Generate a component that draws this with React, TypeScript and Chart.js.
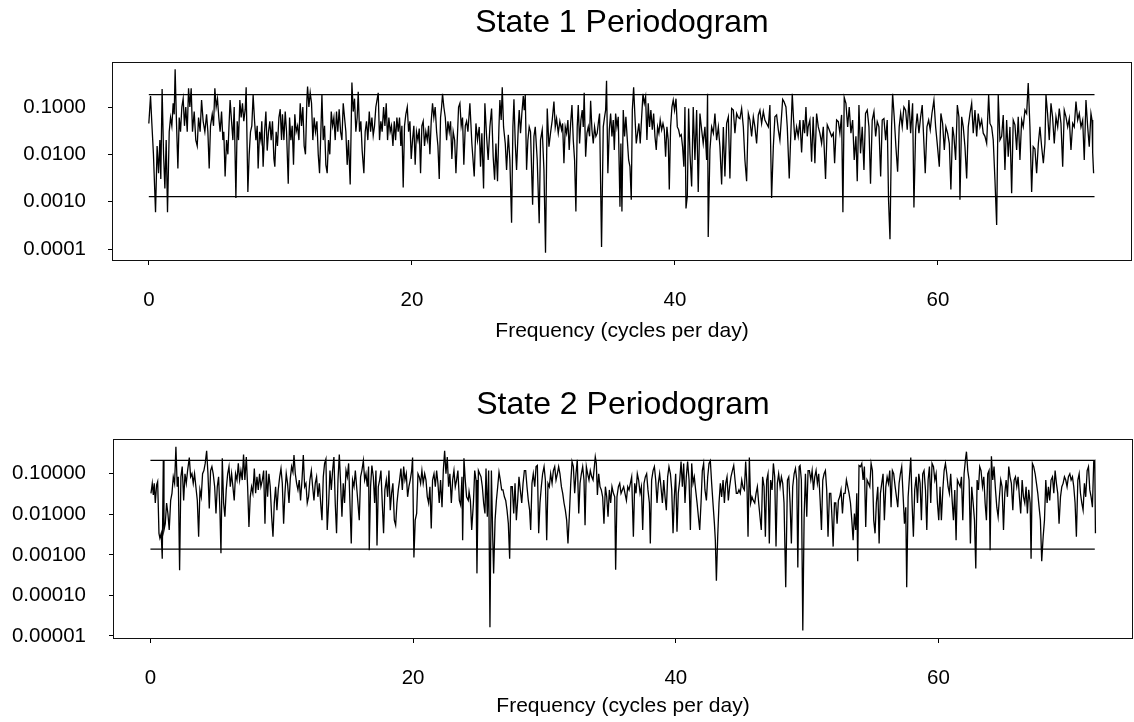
import React, { useEffect, useRef } from "react";
import { Chart, registerables } from "chart.js";

Chart.register(...registerables);

// ---------- DATA ----------
// [frequency (cycles per day), power]
const state1Periodogram: [number, number][] = [
  [0,0.045],[0.13,0.17],[0.23,0.045],[0.35,0.01],[0.51,0.0006],[0.63,0.015],[0.74,0.004],[0.84,0.02],[0.91,0.003],[1.01,0.24],[1.12,0.01],[1.22,0.0019],[1.32,0.02],[1.42,0.0006],[1.55,0.03],[1.65,0.06],[1.75,0.04],[1.85,0.12],[1.93,0.07],[2.0,0.63],[2.1,0.05],[2.21,0.005],[2.31,0.06],[2.41,0.03],[2.51,0.1],[2.61,0.15],[2.71,0.04],[2.81,0.1],[2.92,0.03],[3.02,0.25],[3.12,0.1],[3.22,0.25],[3.32,0.03],[3.45,0.08],[3.57,0.02],[3.68,0.015],[3.78,0.06],[3.9,0.03],[4.01,0.14],[4.13,0.05],[4.26,0.03],[4.39,0.07],[4.49,0.03],[4.59,0.005],[4.69,0.04],[4.82,0.07],[4.92,0.04],[5.02,0.25],[5.12,0.1],[5.22,0.15],[5.32,0.06],[5.42,0.03],[5.53,0.08],[5.63,0.02],[5.7,0.03],[5.8,0.0034],[5.91,0.02],[6.01,0.01],[6.11,0.05],[6.18,0.14],[6.29,0.05],[6.39,0.02],[6.49,0.1],[6.62,0.0012],[6.72,0.05],[6.82,0.02],[6.92,0.14],[7.02,0.06],[7.12,0.12],[7.22,0.05],[7.33,0.09],[7.4,0.26],[7.53,0.0016],[7.63,0.01],[7.73,0.03],[7.83,0.04],[7.93,0.18],[8.04,0.05],[8.14,0.02],[8.24,0.04],[8.31,0.005],[8.42,0.03],[8.52,0.02],[8.59,0.05],[8.69,0.0055],[8.8,0.03],[8.9,0.08],[9.0,0.012],[9.1,0.03],[9.2,0.05],[9.3,0.02],[9.4,0.05],[9.51,0.008],[9.58,0.0055],[9.68,0.03],[9.78,0.015],[9.89,0.06],[9.99,0.09],
  [10.09,0.02],[10.16,0.07],[10.27,0.02],[10.37,0.08],[10.47,0.03],[10.6,0.0024],[10.7,0.06],[10.8,0.02],[10.9,0.04],[11.0,0.006],[11.1,0.07],[11.2,0.03],[11.31,0.04],[11.41,0.02],[11.51,0.12],[11.61,0.04],[11.71,0.1],[11.81,0.015],[11.91,0.01],[12.02,0.15],[12.07,0.27],[12.17,0.1],[12.27,0.2],[12.37,0.12],[12.47,0.02],[12.57,0.06],[12.67,0.03],[12.78,0.05],[12.88,0.01],[12.98,0.004],[13.08,0.03],[13.16,0.18],[13.26,0.02],[13.36,0.04],[13.46,0.006],[13.56,0.004],[13.66,0.02],[13.76,0.01],[13.87,0.08],[13.97,0.04],[14.07,0.06],[14.17,0.02],[14.27,0.08],[14.37,0.03],[14.47,0.09],[14.58,0.03],[14.68,0.02],[14.78,0.12],[14.88,0.06],[14.98,0.03],[15.08,0.006],[15.18,0.02],[15.31,0.0023],[15.44,0.33],[15.54,0.08],[15.64,0.15],[15.74,0.03],[15.84,0.06],[15.92,0.21],[16.02,0.03],[16.12,0.05],[16.22,0.012],[16.35,0.004],[16.45,0.03],[16.55,0.05],[16.65,0.02],[16.76,0.08],[16.86,0.03],[16.96,0.06],[17.06,0.025],[17.16,0.04],[17.26,0.1],[17.44,0.2],[17.54,0.02],[17.64,0.05],[17.74,0.03],[17.85,0.1],[17.95,0.04],[18.05,0.12],[18.15,0.02],[18.25,0.06],[18.35,0.03],[18.45,0.04],[18.56,0.015],[18.66,0.05],[18.76,0.02],[18.86,0.06],[18.96,0.03],[19.06,0.06],[19.16,0.015],[19.24,0.04],[19.34,0.002],[19.44,0.04],[19.54,0.07],[19.65,0.1],[19.75,0.03],[19.85,0.05],[19.95,0.008],
  [20.05,0.02],[20.15,0.04],[20.25,0.006],[20.35,0.03],[20.46,0.02],[20.56,0.035],[20.66,0.004],[20.76,0.04],[20.86,0.05],[20.96,0.015],[21.06,0.03],[21.17,0.02],[21.27,0.04],[21.37,0.01],[21.47,0.05],[21.57,0.12],[21.67,0.06],[21.77,0.1],[21.88,0.03],[21.98,0.015],[22.08,0.003],[22.18,0.06],[22.26,0.1],[22.33,0.19],[22.43,0.1],[22.54,0.06],[22.64,0.02],[22.74,0.05],[22.84,0.03],[22.94,0.05],[23.04,0.008],[23.14,0.03],[23.25,0.02],[23.35,0.004],[23.45,0.02],[23.55,0.1],[23.65,0.12],[23.75,0.04],[23.85,0.06],[23.95,0.006],[24.06,0.04],[24.16,0.05],[24.26,0.03],[24.41,0.12],[24.56,0.017],[24.74,0.0034],[24.87,0.045],[24.99,0.02],[25.12,0.038],[25.22,0.0055],[25.32,0.028],[25.45,0.0019],[25.55,0.12],[25.68,0.024],[25.8,0.0076],[25.93,0.038],[26.06,0.093],[26.18,0.009],[26.29,0.0029],[26.39,0.017],[26.51,0.0027],[26.62,0.038],[26.69,0.14],[26.79,0.053],[26.87,0.26],[26.97,0.038],[27.1,0.017],[27.2,0.0047],[27.33,0.026],[27.45,0.0076],[27.58,0.00036],[27.68,0.038],[27.76,0.145],[27.86,0.017],[27.96,0.0047],[28.09,0.038],[28.16,0.086],[28.26,0.028],[28.36,0.073],[28.47,0.17],[28.54,0.086],[28.62,0.18],[28.72,0.0047],[28.82,0.02],[28.92,0.038],[29.02,0.03],[29.18,0.00086],[29.28,0.024],[29.38,0.038],[29.53,0.0076],[29.68,0.00035],[29.78,0.02],[29.91,0.033],
  [30.04,0.0047],[30.16,0.000083],[30.29,0.093],[30.42,0.0145],[30.54,0.028],[30.67,0.053],[30.8,0.13],[30.9,0.038],[31.0,0.057],[31.13,0.028],[31.25,0.05],[31.38,0.033],[31.46,0.045],[31.56,0.0065],[31.66,0.038],[31.76,0.028],[31.86,0.053],[31.96,0.0124],[32.07,0.045],[32.17,0.11],[32.27,0.02],[32.37,0.0076],[32.47,0.00062],[32.57,0.038],[32.65,0.11],[32.75,0.017],[32.85,0.053],[32.95,0.086],[33.03,0.038],[33.1,0.2],[33.21,0.0089],[33.31,0.028],[33.41,0.038],[33.51,0.024],[33.59,0.135],[33.69,0.033],[33.79,0.017],[33.89,0.038],[33.99,0.024],[34.09,0.028],[34.2,0.053],[34.27,0.073],[34.42,0.00011],[34.55,0.038],[34.65,0.062],[34.73,0.086],[34.8,0.36],[34.9,0.004],[35.01,0.033],[35.11,0.073],[35.21,0.024],[35.31,0.053],[35.39,0.0124],[35.49,0.073],[35.59,0.038],[35.69,0.062],[35.82,0.00078],[35.89,0.017],[35.97,0.00062],[36.07,0.086],[36.17,0.024],[36.27,0.062],[36.38,0.02],[36.48,0.0076],[36.58,0.0055],[36.68,0.0011],[36.76,0.086],[36.86,0.26],[36.96,0.062],[37.06,0.017],[37.16,0.028],[37.26,0.045],[37.36,0.017],[37.47,0.062],[37.57,0.19],[37.67,0.12],[37.77,0.165],[37.87,0.02],[37.97,0.12],[38.07,0.038],[38.17,0.086],[38.28,0.033],[38.38,0.073],[38.48,0.024],[38.58,0.0124],[38.68,0.038],[38.78,0.028],[38.88,0.053],[38.99,0.033],[39.09,0.045],[39.19,0.033],[39.29,0.0089],[39.39,0.038],[39.49,0.02],[39.57,0.0018],[39.67,0.038],[39.77,0.1],[39.87,0.14],[39.97,0.086],
  [40.08,0.15],[40.18,0.038],[40.28,0.033],[40.38,0.024],[40.48,0.026],[40.58,0.0145],[40.68,0.0055],[40.76,0.1],[40.84,0.00072],[40.94,0.0013],[41.04,0.093],[41.14,0.0105],[41.27,0.0021],[41.39,0.1],[41.52,0.0076],[41.65,0.086],[41.77,0.0016],[41.9,0.073],[42.03,0.033],[42.15,0.017],[42.28,0.038],[42.41,0.0076],[42.48,0.19],[42.53,0.00018],[42.66,0.0124],[42.79,0.038],[42.92,0.028],[43.04,0.073],[43.17,0.02],[43.3,0.038],[43.42,0.0145],[43.55,0.0023],[43.68,0.038],[43.8,0.0034],[43.93,0.045],[44.06,0.062],[44.18,0.0031],[44.31,0.093],[44.44,0.086],[44.56,0.028],[44.69,0.073],[44.82,0.06],[44.94,0.057],[45.07,0.093],[45.2,0.038],[45.32,0.0076],[45.45,0.0027],[45.58,0.073],[45.7,0.053],[45.83,0.024],[45.96,0.062],[46.08,0.038],[46.21,0.017],[46.34,0.068],[46.46,0.086],[46.59,0.045],[46.72,0.08],[46.84,0.053],[46.97,0.045],[47.1,0.038],[47.22,0.11],[47.35,0.0012],[47.48,0.0145],[47.6,0.062],[47.73,0.068],[47.86,0.033],[47.98,0.02],[48.11,0.068],[48.19,0.145],[48.29,0.13],[48.44,0.1],[48.54,0.038],[48.69,0.0031],[48.92,0.19],[49.02,0.053],[49.12,0.02],[49.25,0.038],[49.37,0.024],[49.5,0.053],[49.63,0.011],[49.75,0.053],[49.86,0.028],[49.96,0.1],
  [50.06,0.024],[50.13,0.038],[50.26,0.053],[50.39,0.007],[50.51,0.062],[50.64,0.0065],[50.77,0.073],[50.9,0.038],[51.02,0.028],[51.15,0.017],[51.28,0.038],[51.45,0.003],[51.58,0.042],[51.73,0.033],[51.91,0.024],[52.04,0.028],[52.14,0.0065],[52.29,0.053],[52.42,0.049],[52.54,0.028],[52.67,0.068],[52.77,0.0006],[52.87,0.16],[53.0,0.12],[53.13,0.038],[53.25,0.1],[53.38,0.028],[53.51,0.053],[53.63,0.0076],[53.76,0.024],[53.86,0.0027],[53.99,0.11],[54.11,0.0105],[54.24,0.038],[54.37,0.0047],[54.49,0.073],[54.62,0.086],[54.75,0.038],[54.87,0.0024],[55.0,0.053],[55.13,0.08],[55.26,0.024],[55.38,0.049],[55.51,0.038],[55.64,0.0034],[55.76,0.053],[55.89,0.057],[56.02,0.02],[56.14,0.053],[56.24,0.0011],[56.35,0.00016],[56.47,0.038],[56.55,0.19],[56.67,0.062],[56.8,0.0145],[56.93,0.0043],[57.05,0.038],[57.16,0.073],[57.28,0.038],[57.41,0.1],[57.54,0.086],[57.66,0.033],[57.79,0.14],[57.92,0.028],[58.07,0.12],[58.17,0.00075],[58.3,0.033],[58.42,0.073],[58.55,0.028],[58.68,0.062],[58.8,0.11],[58.93,0.017],[59.03,0.004],[59.16,0.038],[59.29,0.053],[59.41,0.033],[59.54,0.073],[59.69,0.14],[59.82,0.038],[59.94,0.017],
  [60.1,0.0055],[60.22,0.073],[60.35,0.045],[60.48,0.0124],[60.6,0.038],[60.73,0.028],[60.86,0.017],[60.98,0.0018],[61.11,0.038],[61.21,0.024],[61.34,0.0076],[61.47,0.11],[61.59,0.062],[61.67,0.0011],[61.8,0.062],[61.92,0.038],[62.05,0.0145],[62.18,0.0031],[62.3,0.038],[62.43,0.073],[62.56,0.12],[62.68,0.028],[62.81,0.086],[62.94,0.024],[63.06,0.073],[63.19,0.038],[63.32,0.053],[63.44,0.028],[63.57,0.024],[63.7,0.017],[63.85,0.18],[63.95,0.045],[64.08,0.038],[64.2,0.02],[64.33,0.0029],[64.46,0.00032],[64.58,0.18],[64.71,0.02],[64.84,0.024],[64.96,0.068],[65.09,0.0047],[65.22,0.053],[65.34,0.0089],[65.47,0.038],[65.6,0.0015],[65.72,0.053],[65.85,0.042],[65.98,0.0124],[66.1,0.062],[66.23,0.0076],[66.36,0.053],[66.48,0.038],[66.61,0.086],[66.74,0.073],[66.86,0.32],[66.99,0.038],[67.12,0.0016],[67.24,0.0145],[67.37,0.013],[67.5,0.004],[67.63,0.017],[67.75,0.038],[67.88,0.0145],[68.01,0.0065],[68.13,0.017],[68.21,0.18],[68.33,0.073],[68.46,0.02],[68.59,0.12],[68.71,0.062],[68.84,0.017],[68.97,0.062],[69.1,0.038],[69.22,0.093],[69.35,0.045],[69.48,0.0055],[69.6,0.086],[69.73,0.062],[69.86,0.038],[69.98,0.057],
  [70.11,0.0124],[70.24,0.045],[70.36,0.038],[70.49,0.13],[70.62,0.053],[70.74,0.073],[70.87,0.038],[71.0,0.053],[71.12,0.0076],[71.25,0.14],[71.38,0.038],[71.5,0.0145],[71.63,0.073],[71.71,0.053],[71.76,0.011],[71.83,0.004],
];

const state2Periodogram: [number, number][] = [
  [0.04,0.033],[0.14,0.058],[0.22,0.03],[0.29,0.058],[0.37,0.019],[0.47,0.053],[0.55,0.064],[0.65,0.0034],[0.72,0.0026],[0.82,0.0034],[0.9,0.0008],[0.98,0.21],[1.03,0.0041],[1.13,0.0059],[1.23,0.019],[1.33,0.0105],[1.43,0.0041],[1.54,0.022],[1.64,0.033],[1.74,0.084],[1.84,0.058],[1.94,0.46],[2.04,0.048],[2.12,0.084],[2.22,0.00042],[2.32,0.084],[2.42,0.15],[2.53,0.022],[2.63,0.1],[2.73,0.058],[2.83,0.12],[2.96,0.25],[3.06,0.084],[3.16,0.1],[3.26,0.058],[3.36,0.1],[3.46,0.048],[3.57,0.022],[3.67,0.0028],[3.77,0.04],[3.87,0.027],[3.97,0.1],[4.07,0.12],[4.17,0.18],[4.28,0.37],[4.38,0.1],[4.48,0.014],[4.58,0.12],[4.68,0.15],[4.78,0.1],[4.89,0.048],[4.99,0.0105],[5.09,0.048],[5.19,0.084],[5.29,0.0127],[5.37,0.0011],[5.47,0.24],[5.57,0.019],[5.67,0.0087],[5.77,0.04],[5.88,0.1],[5.98,0.15],[6.08,0.048],[6.18,0.1],[6.28,0.048],[6.38,0.022],[6.48,0.1],[6.59,0.07],[6.69,0.18],[6.79,0.07],[6.89,0.12],[6.99,0.07],[7.09,0.3],[7.19,0.07],[7.3,0.26],[7.4,0.048],[7.5,0.0049],[7.6,0.027],[7.7,0.048],[7.8,0.033],[7.91,0.135],[8.01,0.033],[8.11,0.084],[8.21,0.04],[8.31,0.1],[8.41,0.048],[8.52,0.07],[8.62,0.12],[8.72,0.0059],[8.82,0.12],[8.92,0.027],[9.02,0.1],[9.12,0.048],[9.23,0.0087],[9.33,0.0028],[9.43,0.019],[9.53,0.048],[9.63,0.0127],[9.73,0.04],[9.84,0.084],[9.94,0.135],
  [10.04,0.058],[10.14,0.0059],[10.24,0.033],[10.34,0.1],[10.44,0.058],[10.55,0.019],[10.65,0.077],[10.75,0.15],[10.85,0.11],[10.93,0.29],[11.03,0.1],[11.13,0.058],[11.23,0.04],[11.33,0.07],[11.43,0.022],[11.54,0.07],[11.64,0.29],[11.74,0.048],[11.84,0.058],[11.94,0.019],[12.04,0.027],[12.14,0.07],[12.25,0.12],[12.35,0.048],[12.45,0.022],[12.55,0.058],[12.65,0.084],[12.75,0.027],[12.86,0.058],[12.96,0.019],[13.06,0.0072],[13.16,0.084],[13.26,0.18],[13.36,0.23],[13.46,0.0041],[13.57,0.019],[13.67,0.12],[13.77,0.04],[13.87,0.12],[13.97,0.26],[14.07,0.019],[14.17,0.0034],[14.28,0.07],[14.38,0.3],[14.48,0.058],[14.58,0.0087],[14.68,0.058],[14.78,0.019],[14.89,0.12],[14.99,0.084],[15.09,0.18],[15.19,0.019],[15.29,0.0019],[15.39,0.07],[15.5,0.048],[15.6,0.12],[15.7,0.048],[15.8,0.019],[15.9,0.0072],[16.0,0.084],[16.1,0.12],[16.21,0.21],[16.31,0.07],[16.41,0.1],[16.51,0.048],[16.61,0.15],[16.66,0.0013],[16.76,0.048],[16.86,0.16],[16.97,0.084],[17.07,0.019],[17.17,0.12],[17.25,0.0017],[17.35,0.048],[17.45,0.07],[17.55,0.12],[17.65,0.019],[17.75,0.0034],[17.85,0.04],[17.96,0.07],[18.06,0.027],[18.16,0.12],[18.26,0.0127],[18.36,0.033],[18.46,0.058],[18.57,0.0072],[18.67,0.0054],[18.77,0.019],[18.87,0.04],[18.97,0.07],[19.07,0.135],[19.18,0.04],[19.28,0.15],[19.38,0.07],[19.48,0.1],[19.58,0.027],[19.68,0.048],[19.78,0.07],[19.89,0.12],[19.96,0.25],
  [20.06,0.00086],[20.16,0.0072],[20.27,0.0105],[20.37,0.1],[20.47,0.084],[20.57,0.058],[20.67,0.12],[20.77,0.058],[20.88,0.1],[20.98,0.07],[21.08,0.027],[21.18,0.019],[21.28,0.048],[21.38,0.0045],[21.48,0.07],[21.59,0.1],[21.69,0.048],[21.79,0.12],[21.89,0.058],[21.99,0.019],[22.09,0.07],[22.2,0.015],[22.3,0.12],[22.4,0.37],[22.5,0.1],[22.6,0.26],[22.7,0.048],[22.8,0.1],[22.91,0.019],[23.01,0.07],[23.11,0.12],[23.21,0.048],[23.31,0.07],[23.41,0.12],[23.52,0.022],[23.62,0.017],[23.72,0.084],[23.77,0.0023],[23.87,0.24],[23.97,0.07],[24.07,0.027],[24.2,0.022],[24.26,0.036],[24.36,0.022],[24.46,0.0041],[24.59,0.019],[24.69,0.12],[24.79,0.07],[24.86,0.00035],[24.97,0.12],[25.07,0.1],[25.17,0.084],[25.27,0.048],[25.37,0.019],[25.47,0.0105],[25.55,0.135],[25.65,0.0087],[25.75,0.12],[25.85,0.0000165],[25.96,0.12],[26.06,0.0028],[26.13,0.00035],[26.24,0.0072],[26.34,0.022],[26.44,0.048],[26.54,0.11],[26.64,0.07],[26.74,0.04],[26.84,0.04],[26.95,0.027],[27.05,0.022],[27.15,0.0127],[27.25,0.0059],[27.35,0.0008],[27.45,0.048],[27.55,0.048],[27.66,0.0105],[27.76,0.058],[27.86,0.0072],[27.96,0.022],[28.06,0.084],[28.16,0.04],[28.27,0.019],[28.37,0.058],[28.47,0.12],[28.57,0.12],[28.67,0.048],[28.77,0.022],[28.87,0.0127],[28.95,0.0041],[29.05,0.058],[29.15,0.1],[29.26,0.048],[29.36,0.15],[29.46,0.16],[29.56,0.0034],[29.66,0.019],[29.76,0.048],[29.86,0.1],[29.97,0.15],
  [30.07,0.07],[30.17,0.0023],[30.27,0.058],[30.37,0.048],[30.47,0.1],[30.58,0.058],[30.68,0.12],[30.78,0.15],[30.88,0.07],[30.98,0.1],[31.08,0.15],[31.18,0.1],[31.29,0.048],[31.39,0.033],[31.49,0.019],[31.59,0.0127],[31.69,0.0072],[31.79,0.0019],[31.89,0.0087],[32.0,0.058],[32.1,0.2],[32.2,0.15],[32.3,0.033],[32.4,0.1],[32.5,0.22],[32.61,0.0105],[32.71,0.058],[32.81,0.1],[32.91,0.15],[33.01,0.07],[33.09,0.0054],[33.19,0.15],[33.29,0.1],[33.39,0.07],[33.49,0.12],[33.6,0.084],[33.7,0.07],[33.8,0.15],[33.87,0.26],[33.95,0.18],[34.03,0.03],[34.13,0.1],[34.23,0.048],[34.33,0.04],[34.43,0.027],[34.53,0.0059],[34.64,0.048],[34.74,0.027],[34.84,0.0087],[34.94,0.04],[35.04,0.019],[35.14,0.048],[35.25,0.033],[35.35,0.027],[35.42,0.00043],[35.52,0.027],[35.63,0.048],[35.73,0.058],[35.83,0.033],[35.93,0.04],[36.03,0.048],[36.13,0.033],[36.24,0.022],[36.34,0.048],[36.44,0.04],[36.54,0.058],[36.64,0.084],[36.77,0.0028],[36.87,0.058],[36.97,0.033],[37.07,0.1],[37.17,0.07],[37.28,0.033],[37.38,0.048],[37.48,0.0041],[37.58,0.058],[37.68,0.084],[37.78,0.1],[37.88,0.04],[37.99,0.019],[38.06,0.0019],[38.16,0.07],[38.27,0.12],[38.37,0.15],[38.47,0.07],[38.57,0.019],[38.67,0.058],[38.77,0.1],[38.87,0.048],[38.98,0.019],[39.08,0.07],[39.18,0.027],[39.28,0.0127],[39.38,0.084],[39.48,0.15],[39.59,0.1],[39.69,0.04],[39.79,0.0034],[39.89,0.027],[39.99,0.1],
  [40.09,0.0037],[40.19,0.033],[40.3,0.07],[40.4,0.2],[40.5,0.048],[40.6,0.18],[40.7,0.019],[40.8,0.084],[40.9,0.2],[41.01,0.07],[41.11,0.0041],[41.21,0.18],[41.31,0.058],[41.41,0.084],[41.51,0.04],[41.62,0.019],[41.72,0.0087],[41.82,0.0041],[41.92,0.019],[42.02,0.12],[42.12,0.18],[42.22,0.04],[42.33,0.022],[42.43,0.084],[42.53,0.18],[42.63,0.21],[42.73,0.058],[42.83,0.019],[42.94,0.0059],[43.01,0.0023],[43.09,0.00023],[43.19,0.0028],[43.29,0.019],[43.39,0.058],[43.49,0.027],[43.6,0.07],[43.7,0.019],[43.8,0.058],[43.9,0.084],[44.0,0.022],[44.1,0.048],[44.2,0.084],[44.31,0.12],[44.41,0.16],[44.51,0.07],[44.61,0.033],[44.71,0.033],[44.81,0.04],[44.91,0.033],[45.02,0.07],[45.12,0.046],[45.22,0.04],[45.32,0.2],[45.42,0.048],[45.5,0.0028],[45.6,0.25],[45.7,0.019],[45.8,0.027],[45.9,0.022],[46.01,0.019],[46.11,0.033],[46.21,0.048],[46.31,0.019],[46.41,0.0087],[46.51,0.0041],[46.61,0.084],[46.72,0.048],[46.82,0.0028],[46.92,0.07],[47.02,0.1],[47.12,0.0019],[47.22,0.07],[47.33,0.04],[47.43,0.18],[47.53,0.084],[47.63,0.0016],[47.73,0.058],[47.83,0.1],[47.94,0.048],[48.04,0.084],[48.14,0.058],[48.24,0.019],[48.37,0.00016],[48.5,0.07],[48.6,0.084],[48.7,0.019],[48.8,0.0019],[48.9,0.048],[49.01,0.1],[49.11,0.135],[49.21,0.07],[49.29,0.00049],[49.39,0.15],[49.46,0.16],[49.56,0.07],[49.67,0.0000137],[49.77,0.0087],[49.87,0.1],[49.97,0.0087],
  [50.07,0.12],[50.17,0.12],[50.28,0.07],[50.38,0.12],[50.48,0.04],[50.58,0.084],[50.68,0.12],[50.78,0.058],[50.88,0.1],[50.99,0.022],[51.09,0.0041],[51.19,0.07],[51.29,0.1],[51.39,0.12],[51.49,0.04],[51.59,0.0028],[51.7,0.033],[51.8,0.033],[51.9,0.0072],[51.98,0.0016],[52.08,0.019],[52.18,0.019],[52.28,0.0059],[52.38,0.022],[52.48,0.027],[52.58,0.04],[52.69,0.0105],[52.79,0.033],[52.89,0.033],[52.99,0.07],[53.09,0.048],[53.19,0.033],[53.3,0.019],[53.4,0.0072],[53.5,0.0023],[53.6,0.0105],[53.7,0.0041],[53.78,0.033],[53.85,0.0007],[53.95,0.16],[54.06,0.15],[54.16,0.18],[54.26,0.07],[54.36,0.15],[54.46,0.0049],[54.56,0.07],[54.67,0.058],[54.77,0.048],[54.87,0.18],[54.97,0.12],[55.07,0.0072],[55.17,0.0034],[55.27,0.019],[55.38,0.048],[55.48,0.0019],[55.58,0.033],[55.68,0.058],[55.78,0.1],[55.88,0.0072],[55.99,0.048],[56.09,0.084],[56.19,0.058],[56.29,0.12],[56.39,0.015],[56.49,0.12],[56.59,0.1],[56.7,0.048],[56.8,0.027],[56.9,0.015],[57.0,0.058],[57.1,0.1],[57.2,0.15],[57.31,0.027],[57.41,0.0059],[57.51,0.015],[57.58,0.00016],[57.69,0.027],[57.79,0.084],[57.89,0.25],[57.99,0.019],[58.09,0.0028],[58.19,0.04],[58.3,0.084],[58.4,0.019],[58.5,0.1],[58.6,0.058],[58.7,0.0072],[58.8,0.1],[58.9,0.12],[59.01,0.04],[59.11,0.0041],[59.21,0.07],[59.31,0.15],[59.41,0.019],[59.51,0.18],[59.62,0.15],[59.72,0.07],[59.82,0.1],[59.92,0.019],
  [60.02,0.0072],[60.12,0.048],[60.22,0.0072],[60.33,0.04],[60.43,0.12],[60.53,0.18],[60.63,0.1],[60.73,0.048],[60.83,0.033],[60.93,0.1],[61.04,0.022],[61.14,0.0072],[61.24,0.04],[61.34,0.0023],[61.44,0.07],[61.54,0.058],[61.65,0.048],[61.75,0.084],[61.85,0.0072],[61.95,0.1],[62.05,0.22],[62.13,0.35],[62.23,0.12],[62.33,0.07],[62.43,0.0019],[62.53,0.048],[62.64,0.019],[62.74,0.0072],[62.84,0.00046],[62.94,0.07],[63.04,0.04],[63.14,0.15],[63.24,0.12],[63.35,0.048],[63.45,0.084],[63.55,0.019],[63.65,0.0072],[63.75,0.1],[63.85,0.12],[63.93,0.0013],[64.03,0.27],[64.13,0.07],[64.23,0.15],[64.34,0.04],[64.44,0.015],[64.54,0.0087],[64.64,0.027],[64.74,0.07],[64.84,0.048],[64.95,0.0041],[65.05,0.033],[65.15,0.07],[65.25,0.027],[65.35,0.15],[65.45,0.084],[65.55,0.058],[65.66,0.0127],[65.76,0.07],[65.86,0.084],[65.96,0.048],[66.06,0.084],[66.16,0.027],[66.26,0.0105],[66.37,0.07],[66.47,0.027],[66.57,0.019],[66.67,0.048],[66.77,0.0105],[66.87,0.04],[66.98,0.019],[67.05,0.0008],[67.15,0.18],[67.25,0.15],[67.36,0.1],[67.46,0.058],[67.56,0.033],[67.66,0.015],[67.76,0.0072],[67.86,0.0007],[67.97,0.0028],[68.07,0.0072],[68.17,0.07],[68.27,0.019],[68.37,0.048],[68.47,0.022],[68.57,0.07],[68.68,0.084],[68.78,0.033],[68.88,0.12],[68.98,0.058],[69.08,0.033],[69.18,0.0059],[69.29,0.027],[69.39,0.048],[69.49,0.058],[69.59,0.084],[69.69,0.07],[69.79,0.048],[69.89,0.084],
  [70.0,0.1],[70.1,0.07],[70.2,0.084],[70.3,0.048],[70.4,0.019],[70.5,0.0028],[70.61,0.07],[70.71,0.1],[70.81,0.033],[70.91,0.019],[71.01,0.0127],[71.11,0.058],[71.21,0.027],[71.32,0.12],[71.42,0.15],[71.52,0.04],[71.62,0.027],[71.72,0.015],[71.82,0.2],[71.9,0.21],[71.95,0.0034],
];

// horizontal reference lines [upper, lower]
const state1Limits = [0.182, 0.00128];
const state2Limits = [0.213, 0.00138];
const limitSpan = [0, 71.9];

const titles = ["State 1 Periodogram", "State 2 Periodogram"];
const xAxisTitle = "Frequency (cycles per day)";
const xTickValues = [0, 20, 40, 60];
const xTickLabels = ["0", "20", "40", "60"];
const y1TickValues = [0.0001, 0.001, 0.01, 0.1];
const y1TickLabels = ["0.0001", "0.0010", "0.0100", "0.1000"];
const y2TickValues = [0.00001, 0.0001, 0.001, 0.01, 0.1];
const y2TickLabels = ["0.00001", "0.00010", "0.00100", "0.01000", "0.10000"];

const FONT = "'Liberation Sans', Arial, Helvetica, sans-serif";

type PanelCfg = {
  title: string;
  points: [number, number][];
  limits: number[];
  yTicks: number[];
  yLabels: string[];
  xMin: number;
  xMax: number;
  yMin: number;
  yMax: number;
  yAxisWidth: number;
  xAxisHeight: number;
  padRight: number;
  titlePad: { top: number; bottom: number };
  xTitlePadBottom: number;
  yTickPad: number;
};

const framePlugin = {
  id: "frame",
  afterDraw(chart: any) {
    const { ctx, chartArea } = chart;
    ctx.save();
    ctx.strokeStyle = "#111";
    ctx.lineWidth = 1;
    ctx.strokeRect(
      Math.round(chartArea.left) + 0.5,
      Math.round(chartArea.top) + 0.5,
      Math.round(chartArea.right - chartArea.left) - 1,
      Math.round(chartArea.bottom - chartArea.top) - 1
    );
    ctx.restore();
  },
};

function Panel({ cfg, top }: { cfg: PanelCfg; top: number }) {
  const ref = useRef<HTMLCanvasElement | null>(null);
  useEffect(() => {
    if (!ref.current) return;
    const lineData = cfg.points.map(([x, y]) => ({ x, y }));
    const upper = limitSpan.map((x) => ({ x, y: cfg.limits[0] }));
    const lower = limitSpan.map((x) => ({ x, y: cfg.limits[1] }));
    const chart = new Chart(ref.current, {
      type: "line",
      data: {
        datasets: [
          { data: upper, borderColor: "#000", borderWidth: 1.2, pointRadius: 0, tension: 0 },
          { data: lower, borderColor: "#000", borderWidth: 1.2, pointRadius: 0, tension: 0 },
          { data: lineData, borderColor: "#000", borderWidth: 1.3, pointRadius: 0, tension: 0 },
        ],
      },
      options: {
        animation: false,
        responsive: false,
        devicePixelRatio: 1,
        layout: { padding: { left: 0, right: cfg.padRight, top: 0, bottom: 0 } },
        plugins: {
          legend: { display: false },
          tooltip: { enabled: false },
          title: {
            display: true,
            fullSize: false,
            text: cfg.title,
            color: "#000",
            font: { family: FONT, size: 32, weight: "normal" },
            padding: cfg.titlePad,
          },
        },
        scales: {
          x: {
            type: "linear",
            min: cfg.xMin,
            max: cfg.xMax,
            afterBuildTicks: (s: any) => {
              s.ticks = xTickValues.map((v) => ({ value: v }));
            },
            afterFit: (s: any) => {
              s.height = cfg.xAxisHeight;
            },
            ticks: {
              color: "#000",
              font: { family: FONT, size: 20.5 },
              padding: 22.7,
              maxRotation: 0,
              autoSkip: false,
              callback: (_v: any, i: number) => xTickLabels[i],
            },
            grid: { display: true, drawOnChartArea: false, drawTicks: true, tickLength: 4, color: "#000" },
            border: { display: false },
            title: {
              display: true,
              text: xAxisTitle,
              color: "#000",
              font: { family: FONT, size: 21 },
              padding: { top: 0, bottom: cfg.xTitlePadBottom },
            },
          },
          y: {
            type: "logarithmic",
            min: cfg.yMin,
            max: cfg.yMax,
            afterBuildTicks: (s: any) => {
              s.ticks = cfg.yTicks.map((v) => ({ value: v }));
            },
            afterFit: (s: any) => {
              s.width = cfg.yAxisWidth;
            },
            ticks: {
              color: "#000",
              font: { family: FONT, size: 20.5 },
              padding: cfg.yTickPad,
              autoSkip: false,
              callback: (_v: any, i: number) => cfg.yLabels[i],
            },
            grid: { display: true, drawOnChartArea: false, drawTicks: true, tickLength: 4, color: "#000" },
            border: { display: false },
          },
        },
      },
      plugins: [framePlugin],
    } as any);
    return () => chart.destroy();
  }, [cfg]);
  return (
    <canvas
      ref={ref}
      width={1134}
      height={361}
      style={{ position: "absolute", left: 0, top, width: 1134, height: 361 }}
    />
  );
}

const panel1: PanelCfg = {
  title: titles[0],
  points: state1Periodogram,
  limits: state1Limits,
  yTicks: y1TickValues,
  yLabels: y1TickLabels,
  xMin: -2.8,
  xMax: 74.75,
  yMin: 0.0000558,
  yMax: 0.893,
  yAxisWidth: 112,
  xAxisHeight: 100,
  padRight: 2,
  titlePad: { top: 3.8, bottom: 19.8 },
  xTitlePadBottom: 17.4,
  yTickPad: 22,
};

const panel2: PanelCfg = {
  title: titles[1],
  points: state2Periodogram,
  limits: state2Limits,
  yTicks: y2TickValues,
  yLabels: y2TickLabels,
  xMin: -2.85,
  xMax: 74.81,
  yMin: 0.00000843,
  yMax: 0.72,
  yAxisWidth: 113,
  xAxisHeight: 83,
  padRight: 1,
  titlePad: { top: 25.3, bottom: 14.3 },
  xTitlePadBottom: 2.9,
  yTickPad: 23,
};

export default function App() {
  return (
    <div style={{ position: "absolute", left: 0, top: 0, width: 1134, height: 722, background: "#fff" }}>
      <Panel cfg={panel1} top={0} />
      <Panel cfg={panel2} top={361} />
    </div>
  );
}
